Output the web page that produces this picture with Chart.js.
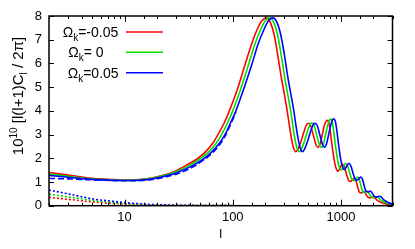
<!DOCTYPE html>
<html>
<head>
<meta charset="utf-8">
<script src="https://cdn.jsdelivr.net/npm/chart.js@4.4.1/dist/chart.umd.min.js"></script>
<style>
  html, body { margin: 0; padding: 0; background: #fff; }
</style>
</head>
<body>
<canvas id="chart" width="415" height="249"></canvas>
<script>
// multipoles and spectra, 10^10 l(l+1)C_l/2pi
const redEll = [2, 3, 4, 5, 6, 8, 10, 13, 16, 20, 25, 30,
  37, 47, 56, 65, 74, 84, 93, 112, 130, 149, 167, 186, 205,
  223, 242, 260, 279, 298, 316, 335, 353, 367, 381, 400, 428, 456, 479, 502, 525,
  558, 586, 614, 642, 670, 707, 744, 772, 800, 828, 865, 902, 939, 977, 1032, 1079,
  1125, 1172, 1209, 1265, 1330, 1376, 1432, 1488, 1544, 1628, 1693, 1767, 1860, 1953, 2046, 2186,
  2418, 2790, 3000];
const redVal = [1.40, 1.29, 1.21, 1.16, 1.13, 1.10, 1.08, 1.09, 1.13, 1.22, 1.34, 1.48,
  1.70, 1.98, 2.27, 2.62, 3.05, 3.52, 4.00, 5.00, 5.95, 6.80, 7.40, 7.80, 7.92,
  7.72, 7.20, 6.38, 5.50, 4.78, 4.10, 3.35, 2.70, 2.40, 2.28, 2.38, 2.72, 3.12, 3.40, 3.48, 3.37,
  2.95, 2.60, 2.46, 2.60, 2.96, 3.42, 3.60, 3.52, 3.10, 2.55, 1.95, 1.58, 1.45, 1.58, 1.76, 1.63,
  1.33, 1.10, 1.02, 1.07, 1.17, 1.07, 0.78, 0.56, 0.54, 0.60, 0.50, 0.37, 0.33, 0.36, 0.34, 0.21,
  0.11, 0.05, 0.03];

const greenEll = [2, 3, 4, 5, 6, 8, 10, 13, 16, 20, 25, 30,
  40, 50, 60, 70, 80, 90, 100, 120, 140, 160, 180, 200, 220,
  240, 260, 280, 300, 320, 340, 360, 380, 395, 410, 430, 460, 490, 515, 540, 565,
  600, 630, 660, 690, 720, 760, 800, 830, 860, 890, 930, 970, 1010, 1050, 1110, 1160,
  1210, 1260, 1300, 1360, 1430, 1480, 1540, 1600, 1660, 1750, 1820, 1900, 2000, 2100, 2200, 2350,
  2600, 3000];
const greenVal = [1.33, 1.24, 1.17, 1.13, 1.11, 1.08, 1.07, 1.08, 1.12, 1.20, 1.31, 1.43,
  1.70, 1.98, 2.27, 2.62, 3.05, 3.52, 4.00, 5.00, 5.95, 6.80, 7.40, 7.80, 7.92,
  7.72, 7.20, 6.38, 5.50, 4.78, 4.10, 3.35, 2.70, 2.40, 2.28, 2.38, 2.72, 3.12, 3.40, 3.50, 3.38,
  2.95, 2.60, 2.46, 2.60, 2.98, 3.45, 3.65, 3.55, 3.10, 2.55, 1.95, 1.60, 1.50, 1.62, 1.79, 1.65,
  1.35, 1.12, 1.05, 1.10, 1.21, 1.10, 0.80, 0.58, 0.56, 0.62, 0.52, 0.38, 0.34, 0.38, 0.36, 0.22,
  0.12, 0.05];

const blueEll = [2, 3, 4, 5, 6, 8, 10, 13, 16, 20, 25, 30,
  43, 54, 64, 75, 86, 96, 107, 128, 150, 171, 193, 214, 235,
  257, 278, 300, 321, 342, 364, 385, 407, 423, 439, 460, 492, 524, 551, 578, 605,
  642, 674, 706, 738, 770, 813, 856, 888, 920, 952, 995, 1038, 1081, 1124, 1188, 1241,
  1295, 1348, 1391, 1455, 1530, 1584, 1648, 1712, 1776, 1873, 1947, 2033, 2140, 2247, 2354, 2515,
  2782, 3000];
const blueVal = [1.28, 1.20, 1.14, 1.11, 1.09, 1.07, 1.06, 1.07, 1.10, 1.17, 1.27, 1.38,
  1.70, 1.98, 2.27, 2.62, 3.05, 3.52, 4.00, 5.00, 5.95, 6.80, 7.40, 7.80, 7.92,
  7.72, 7.20, 6.38, 5.50, 4.78, 4.10, 3.35, 2.70, 2.40, 2.28, 2.38, 2.72, 3.12, 3.40, 3.47, 3.37,
  2.95, 2.60, 2.46, 2.62, 3.00, 3.47, 3.66, 3.56, 3.12, 2.57, 1.97, 1.62, 1.52, 1.64, 1.79, 1.66,
  1.37, 1.14, 1.07, 1.12, 1.21, 1.11, 0.81, 0.60, 0.58, 0.62, 0.53, 0.40, 0.36, 0.40, 0.37, 0.23,
  0.12, 0.07];

// dashed blue curve at low l
const dashEll = [2, 3, 4, 5, 6, 8, 10, 13, 16, 20, 25, 30, 43, 54, 64, 75, 86, 96, 107];
const dashVal = [1.15, 1.13, 1.11, 1.09, 1.08, 1.06, 1.05, 1.06, 1.08, 1.14, 1.23, 1.33, 1.64, 1.93, 2.20, 2.55, 2.98, 3.45, 3.94];

// dotted curves near zero
const dotEll = [2, 3, 4, 5, 6, 8, 10, 13, 16, 20, 30, 50, 100];
const dotRed = [0.35, 0.27, 0.21, 0.16, 0.13, 0.09, 0.07, 0.05, 0.03, 0.02, 0.01, 0.005, 0.002];
const dotGreen = [0.49, 0.37, 0.29, 0.22, 0.18, 0.13, 0.09, 0.06, 0.04, 0.03, 0.015, 0.008, 0.003];
const dotBlue = [0.66, 0.50, 0.38, 0.29, 0.24, 0.18, 0.13, 0.09, 0.06, 0.04, 0.02, 0.01, 0.005];

const legendLabels = ["=-0.05", "= 0", "=0.05"];
const xTickLabels = [10, 100, 1000];

const RED = "#ff0000";
const GREEN = "#00e000";
const BLUE = "#0000ff";
const FONT = "'Liberation Sans', Arial, sans-serif";

function pts(ell, val) {
  return ell.map((l, i) => ({ x: l, y: val[i] }));
}

// draw text pieces with sub/superscripts
function richWidth(ctx, parts) {
  let w = 0;
  parts.forEach((p) => {
    ctx.font = p[1] + "px " + FONT;
    w += ctx.measureText(p[0]).width;
  });
  return w;
}
function drawRich(ctx, x, y, parts) {
  parts.forEach((p) => {
    ctx.font = p[1] + "px " + FONT;
    ctx.fillText(p[0], x, y + (p[2] || 0));
    x += ctx.measureText(p[0]).width;
  });
}

// frame, inward ticks, legend and axis titles
const decor = {
  id: "decor",
  afterDraw(chart) {
    const ctx = chart.ctx;
    const a = chart.chartArea;
    const xs = chart.scales.x;
    const ys = chart.scales.y;
    ctx.save();
    ctx.strokeStyle = "#000";
    ctx.lineWidth = 1;
    ctx.beginPath();
    xs.ticks.forEach((t) => {
      const px = Math.round(xs.getPixelForValue(t.value)) + 0.5;
      const lg = Math.log10(t.value);
      const len = Math.abs(lg - Math.round(lg)) < 1e-6 ? 6 : 3;
      ctx.moveTo(px, a.bottom);
      ctx.lineTo(px, a.bottom - len);
      ctx.moveTo(px, a.top);
      ctx.lineTo(px, a.top + len);
    });
    ys.ticks.forEach((t) => {
      const py = Math.round(ys.getPixelForValue(t.value)) + 0.5;
      ctx.moveTo(a.left, py);
      ctx.lineTo(a.left + 5, py);
      ctx.moveTo(a.right, py);
      ctx.lineTo(a.right - 5, py);
    });
    ctx.stroke();
    ctx.lineWidth = 1.5;
    ctx.strokeRect(a.left, a.top, a.right - a.left, a.bottom - a.top);

    // legend
    const colors = [RED, GREEN, BLUE];
    const rowY = [32, 52.3, 72.7];
    const textX = [62.7, 68.3, 67.7];
    ctx.fillStyle = "#000";
    ctx.textBaseline = "alphabetic";
    ctx.textAlign = "left";
    legendLabels.forEach((lab, i) => {
      drawRich(ctx, textX[i], rowY[i] + 5, [["\u03A9", 14], ["k", 10, 4], [lab, 14]]);
      ctx.strokeStyle = colors[i];
      ctx.lineWidth = 1.6;
      ctx.beginPath();
      ctx.moveTo(126, rowY[i]);
      ctx.lineTo(163, rowY[i]);
      ctx.stroke();
    });

    // x title
    ctx.fillStyle = "#000";
    ctx.font = "13px " + FONT;
    ctx.textAlign = "center";
    ctx.fillText("l", (a.left + a.right) / 2, 238);

    // y title, rotated
    const parts = [["10", 15], ["10", 10, -6], [" [l(l+1)C", 15], ["l", 10, 4], [" / 2\u03C0]", 15]];
    ctx.textAlign = "left";
    ctx.translate(23, 96);
    ctx.rotate(-Math.PI / 2);
    const w = richWidth(ctx, parts);
    drawRich(ctx, -w / 2, 0, parts);
    ctx.restore();
  }
};

const ctx = document.getElementById("chart").getContext("2d");

new Chart(ctx, {
  type: "line",
  data: {
    datasets: [
      { data: pts(blueEll, blueVal), borderColor: BLUE, order: 0 },
      { data: pts(greenEll, greenVal), borderColor: GREEN, order: 1 },
      { data: pts(redEll, redVal), borderColor: RED, order: 2 },
      { data: pts(dashEll, dashVal), borderColor: BLUE, borderDash: [6, 3], order: 3 },
      { data: pts(dotEll, dotBlue), borderColor: BLUE, borderDash: [2, 2], order: 4 },
      { data: pts(dotEll, dotGreen), borderColor: GREEN, borderDash: [2, 2], order: 5 },
      { data: pts(dotEll, dotRed), borderColor: RED, borderDash: [2, 2], order: 6 }
    ]
  },
  options: {
    responsive: false,
    animation: false,
    devicePixelRatio: 1,
    layout: { padding: { left: 0, top: 16, right: 22.5, bottom: 0 } },
    plugins: { legend: { display: false }, tooltip: { enabled: false } },
    elements: {
      point: { radius: 0 },
      line: { borderWidth: 1.6, fill: false, cubicInterpolationMode: "monotone" }
    },
    scales: {
      x: {
        type: "logarithmic",
        min: 2,
        max: 3000,
        grid: { display: false, drawTicks: false },
        border: { display: false },
        ticks: {
          autoSkip: false,
          maxRotation: 0,
          padding: 4,
          color: "#000",
          font: { family: FONT, size: 13 },
          callback: (v) => (xTickLabels.some((t) => Math.abs(t - v) < 1e-6) ? String(Math.round(v)) : "")
        },
        afterFit: (s) => { s.height = 43.3; }
      },
      y: {
        min: 0,
        max: 8,
        grid: { display: false, drawTicks: false },
        border: { display: false },
        ticks: { stepSize: 1, padding: 7, color: "#000", font: { family: FONT, size: 13 } },
        afterFit: (s) => { s.width = 49; }
      }
    }
  },
  plugins: [decor]
});
</script>
</body>
</html>
